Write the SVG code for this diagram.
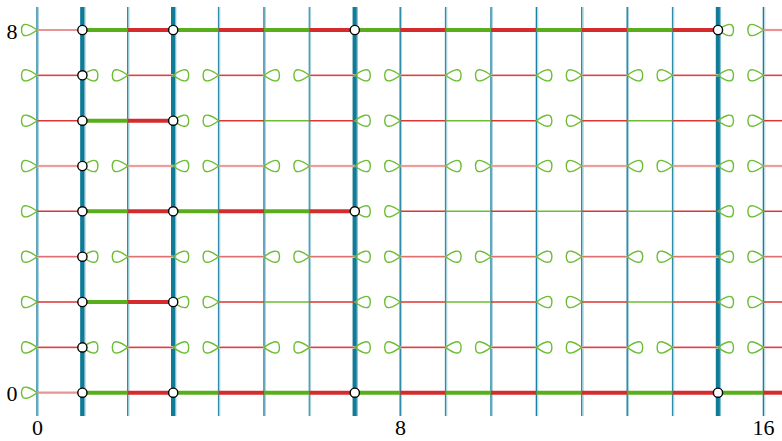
<svg xmlns="http://www.w3.org/2000/svg" xmlns:xlink="http://www.w3.org/1999/xlink" width="782" height="441" viewBox="0 0 782 441">
<style>
.vd{stroke:#1a7fa0;stroke-width:1.4}
.vl{stroke:#a6d2de;stroke-width:1}
.vk{stroke:#0f7b96;stroke-width:4}
.vkl{stroke:#86bfd0;stroke-width:5}
.tg{stroke:#5aae1e;stroke-width:4}
.tr{stroke:#d42c2c;stroke-width:4}
.sg{stroke:#6cbd34;stroke-width:1.6}
.sr{stroke:#dc3535;stroke-width:1.5}
.pk{stroke:#e89494;stroke-width:2.2}
.ou{stroke:#f6cccc;stroke-width:2.6}
.or{stroke:#e04040;stroke-width:1.2}
.lp{fill:none;stroke:#6cbd34;stroke-width:1.4}
.nd{fill:#fff;stroke:#000;stroke-width:1.4}
</style>
<defs>
<path id="loopL" d="M0,0 C-6,-4.5 -15.5,-10 -15.5,0 C-15.5,10 -6,4.5 0,0 Z"/>
<path id="loopR" d="M0,0 C6,-4.5 15.5,-10 15.5,0 C15.5,10 6,4.5 0,0 Z"/>
</defs>
<g id="verticals" fill="none">
<line class="vd" x1="37" y1="7" x2="37" y2="416"/><line class="vl" x1="38.4" y1="7" x2="38.4" y2="416"/>
<line class="vl" x1="128.7" y1="7" x2="128.7" y2="416" style="stroke-width:1.6"/><line class="vd" x1="127.6" y1="7" x2="127.6" y2="416" style="stroke-width:1"/>
<line class="vl" x1="219.5" y1="7" x2="219.5" y2="416" style="stroke-width:1.6"/><line class="vd" x1="218.4" y1="7" x2="218.4" y2="416" style="stroke-width:1"/>
<line class="vd" x1="264" y1="7" x2="264" y2="416"/><line class="vl" x1="265.4" y1="7" x2="265.4" y2="416"/>
<line class="vl" x1="310.3" y1="7" x2="310.3" y2="416" style="stroke-width:1.6"/><line class="vd" x1="309.2" y1="7" x2="309.2" y2="416" style="stroke-width:1"/>
<line class="vd" x1="400.2" y1="7" x2="400.2" y2="416"/><line class="vl" x1="401.6" y1="7" x2="401.6" y2="416"/>
<line class="vl" x1="446.5" y1="7" x2="446.5" y2="416" style="stroke-width:1.6"/><line class="vd" x1="445.4" y1="7" x2="445.4" y2="416" style="stroke-width:1"/>
<line class="vd" x1="491" y1="7" x2="491" y2="416"/><line class="vl" x1="492.4" y1="7" x2="492.4" y2="416"/>
<line class="vd" x1="536.4" y1="7" x2="536.4" y2="416"/><line class="vl" x1="537.8" y1="7" x2="537.8" y2="416"/>
<line class="vl" x1="582.7" y1="7" x2="582.7" y2="416" style="stroke-width:2"/><line class="vd" x1="581.6" y1="7" x2="581.6" y2="416" style="stroke-width:1"/>
<line class="vd" x1="627.2" y1="7" x2="627.2" y2="416"/><line class="vl" x1="628.6" y1="7" x2="628.6" y2="416"/>
<line class="vl" x1="673.5" y1="7" x2="673.5" y2="416" style="stroke-width:1.6"/><line class="vd" x1="672.4" y1="7" x2="672.4" y2="416" style="stroke-width:1"/>
<line class="vd" x1="763.4" y1="7" x2="763.4" y2="416"/><line class="vl" x1="764.8" y1="7" x2="764.8" y2="416"/>
<line class="vkl" x1="83" y1="7" x2="83" y2="416"/><line class="vk" x1="82.2" y1="7" x2="82.2" y2="416"/>
<line class="vkl" x1="173.8" y1="7" x2="173.8" y2="416"/><line class="vk" x1="173" y1="7" x2="173" y2="416"/>
<line class="vkl" x1="355.4" y1="7" x2="355.4" y2="416"/><line class="vk" x1="354.6" y1="7" x2="354.6" y2="416"/>
<line class="vkl" x1="718.6" y1="7" x2="718.6" y2="416"/><line class="vk" x1="717.8" y1="7" x2="717.8" y2="416"/>
</g>
<g id="connectors" fill="none">
<line class="pk" x1="37" y1="30" x2="82.4" y2="30"/>
<line class="tg" x1="82.4" y1="30" x2="127.8" y2="30"/><line class="tr" x1="127.8" y1="30" x2="173.2" y2="30"/>
<line class="tg" x1="173.2" y1="30" x2="218.6" y2="30"/><line class="tr" x1="218.6" y1="30" x2="264" y2="30"/>
<line class="tg" x1="264" y1="30" x2="309.4" y2="30"/><line class="tr" x1="309.4" y1="30" x2="354.8" y2="30"/>
<line class="tg" x1="354.8" y1="30" x2="400.2" y2="30"/><line class="tr" x1="400.2" y1="30" x2="445.6" y2="30"/>
<line class="tg" x1="445.6" y1="30" x2="491" y2="30"/><line class="tr" x1="491" y1="30" x2="536.4" y2="30"/>
<line class="tg" x1="536.4" y1="30" x2="581.8" y2="30"/><line class="tr" x1="581.8" y1="30" x2="627.2" y2="30"/>
<line class="tg" x1="627.2" y1="30" x2="672.6" y2="30"/><line class="tr" x1="672.6" y1="30" x2="718" y2="30"/>
<line class="pk" x1="763.4" y1="30" x2="782" y2="30"/>
<line class="pk" x1="37" y1="392.7" x2="82.4" y2="392.7"/>
<line class="tg" x1="82.4" y1="392.7" x2="127.8" y2="392.7"/><line class="tr" x1="127.8" y1="392.7" x2="173.2" y2="392.7"/>
<line class="tg" x1="173.2" y1="392.7" x2="218.6" y2="392.7"/><line class="tr" x1="218.6" y1="392.7" x2="264" y2="392.7"/>
<line class="tg" x1="264" y1="392.7" x2="309.4" y2="392.7"/><line class="tr" x1="309.4" y1="392.7" x2="354.8" y2="392.7"/>
<line class="tg" x1="354.8" y1="392.7" x2="400.2" y2="392.7"/><line class="tr" x1="400.2" y1="392.7" x2="445.6" y2="392.7"/>
<line class="tg" x1="445.6" y1="392.7" x2="491" y2="392.7"/><line class="tr" x1="491" y1="392.7" x2="536.4" y2="392.7"/>
<line class="tg" x1="536.4" y1="392.7" x2="581.8" y2="392.7"/><line class="tr" x1="581.8" y1="392.7" x2="627.2" y2="392.7"/>
<line class="tg" x1="627.2" y1="392.7" x2="672.6" y2="392.7"/><line class="tr" x1="672.6" y1="392.7" x2="718" y2="392.7"/>
<line class="tg" x1="718" y1="392.7" x2="763.4" y2="392.7"/><line class="tr" x1="763.4" y1="392.7" x2="782" y2="392.7"/>
<line class="sr" x1="37" y1="211.3" x2="82.4" y2="211.3"/>
<line class="tg" x1="82.4" y1="211.3" x2="127.8" y2="211.3"/><line class="tr" x1="127.8" y1="211.3" x2="173.2" y2="211.3"/>
<line class="tg" x1="173.2" y1="211.3" x2="218.6" y2="211.3"/><line class="tr" x1="218.6" y1="211.3" x2="264" y2="211.3"/>
<line class="tg" x1="264" y1="211.3" x2="309.4" y2="211.3"/><line class="tr" x1="309.4" y1="211.3" x2="354.8" y2="211.3"/>
<line class="sr" x1="400.2" y1="211.3" x2="445.6" y2="211.3"/><line class="sg" x1="445.6" y1="211.3" x2="491" y2="211.3"/>
<line class="sr" x1="491" y1="211.3" x2="536.4" y2="211.3"/><line class="sg" x1="536.4" y1="211.3" x2="581.8" y2="211.3"/>
<line class="sr" x1="581.8" y1="211.3" x2="627.2" y2="211.3"/><line class="sg" x1="627.2" y1="211.3" x2="672.6" y2="211.3"/>
<line class="sr" x1="672.6" y1="211.3" x2="718" y2="211.3"/>
<line class="sr" x1="763.4" y1="211.3" x2="782" y2="211.3"/>
<g id="row6">
<line class="sr" x1="37" y1="120.7" x2="82.4" y2="120.7"/>
<line class="tg" x1="82.4" y1="120.7" x2="127.8" y2="120.7"/><line class="tr" x1="127.8" y1="120.7" x2="173.2" y2="120.7"/>
<line class="sr" x1="218.6" y1="120.7" x2="264" y2="120.7"/><line class="sg" x1="264" y1="120.7" x2="309.4" y2="120.7"/><line class="sr" x1="309.4" y1="120.7" x2="354.8" y2="120.7"/>
<line class="sr" x1="400.2" y1="120.7" x2="445.6" y2="120.7"/><line class="sg" x1="445.6" y1="120.7" x2="491" y2="120.7"/><line class="sr" x1="491" y1="120.7" x2="536.4" y2="120.7"/>
<line class="sr" x1="581.8" y1="120.7" x2="627.2" y2="120.7"/><line class="sg" x1="627.2" y1="120.7" x2="672.6" y2="120.7"/><line class="sr" x1="672.6" y1="120.7" x2="718" y2="120.7"/>
<line class="sr" x1="763.4" y1="120.7" x2="782" y2="120.7"/>
</g>
<g id="row2">
<line class="sr" x1="37" y1="302" x2="82.4" y2="302"/>
<line class="tg" x1="82.4" y1="302" x2="127.8" y2="302"/><line class="tr" x1="127.8" y1="302" x2="173.2" y2="302"/>
<line class="sr" x1="218.6" y1="302" x2="264" y2="302"/><line class="sg" x1="264" y1="302" x2="309.4" y2="302"/><line class="sr" x1="309.4" y1="302" x2="354.8" y2="302"/>
<line class="sr" x1="400.2" y1="302" x2="445.6" y2="302"/><line class="sg" x1="445.6" y1="302" x2="491" y2="302"/><line class="sr" x1="491" y1="302" x2="536.4" y2="302"/>
<line class="sr" x1="581.8" y1="302" x2="627.2" y2="302"/><line class="sg" x1="627.2" y1="302" x2="672.6" y2="302"/><line class="sr" x1="672.6" y1="302" x2="718" y2="302"/>
<line class="sr" x1="763.4" y1="302" x2="782" y2="302"/>
</g>
<g id="oddrows">
<path class="ou" d="M37,75.3H82.4M127.8,75.3H173.2M218.6,75.3H264M309.4,75.3H354.8M400.2,75.3H445.6M491,75.3H536.4M581.8,75.3H627.2M672.6,75.3H718M763.4,75.3H782"/>
<path class="or" d="M37,75.3H82.4M127.8,75.3H173.2M218.6,75.3H264M309.4,75.3H354.8M400.2,75.3H445.6M491,75.3H536.4M581.8,75.3H627.2M672.6,75.3H718M763.4,75.3H782"/>
<path class="ou" d="M37,166H82.4M127.8,166H173.2M218.6,166H264M309.4,166H354.8M400.2,166H445.6M491,166H536.4M581.8,166H627.2M672.6,166H718M763.4,166H782"/>
<path class="or" style="stroke:#e27070" d="M37,166H82.4M127.8,166H173.2M218.6,166H264M309.4,166H354.8M400.2,166H445.6M491,166H536.4M581.8,166H627.2M672.6,166H718M763.4,166H782"/>
<path class="ou" d="M37,256.7H82.4M127.8,256.7H173.2M218.6,256.7H264M309.4,256.7H354.8M400.2,256.7H445.6M491,256.7H536.4M581.8,256.7H627.2M672.6,256.7H718M763.4,256.7H782"/>
<path class="or" style="stroke:#e27070" d="M37,256.7H82.4M127.8,256.7H173.2M218.6,256.7H264M309.4,256.7H354.8M400.2,256.7H445.6M491,256.7H536.4M581.8,256.7H627.2M672.6,256.7H718M763.4,256.7H782"/>
<path class="ou" d="M37,347.4H82.4M127.8,347.4H173.2M218.6,347.4H264M309.4,347.4H354.8M400.2,347.4H445.6M491,347.4H536.4M581.8,347.4H627.2M672.6,347.4H718M763.4,347.4H782"/>
<path class="or" d="M37,347.4H82.4M127.8,347.4H173.2M218.6,347.4H264M309.4,347.4H354.8M400.2,347.4H445.6M491,347.4H536.4M581.8,347.4H627.2M672.6,347.4H718M763.4,347.4H782"/>
</g>
<g id="loops" class="lp">
<use href="#loopL" x="37" y="30"/><use href="#loopR" x="718" y="30"/><use href="#loopL" x="763.4" y="30"/>
<use href="#loopL" x="37" y="392.7"/>
<use href="#loopL" x="37" y="211.3"/><use href="#loopR" x="354.8" y="211.3"/><use href="#loopL" x="400.2" y="211.3"/><use href="#loopR" x="718" y="211.3"/><use href="#loopL" x="763.4" y="211.3"/>
<use href="#loopL" x="37" y="120.7"/><use href="#loopR" x="173.2" y="120.7"/><use href="#loopL" x="218.6" y="120.7"/><use href="#loopR" x="354.8" y="120.7"/><use href="#loopL" x="400.2" y="120.7"/><use href="#loopR" x="536.4" y="120.7"/><use href="#loopL" x="581.8" y="120.7"/><use href="#loopR" x="718" y="120.7"/><use href="#loopL" x="763.4" y="120.7"/>
<use href="#loopL" x="37" y="302"/><use href="#loopR" x="173.2" y="302"/><use href="#loopL" x="218.6" y="302"/><use href="#loopR" x="354.8" y="302"/><use href="#loopL" x="400.2" y="302"/><use href="#loopR" x="536.4" y="302"/><use href="#loopL" x="581.8" y="302"/><use href="#loopR" x="718" y="302"/><use href="#loopL" x="763.4" y="302"/>
<use href="#loopL" x="37" y="75.3"/><use href="#loopR" x="82.4" y="75.3"/><use href="#loopL" x="127.8" y="75.3"/><use href="#loopR" x="173.2" y="75.3"/><use href="#loopL" x="218.6" y="75.3"/><use href="#loopR" x="264" y="75.3"/><use href="#loopL" x="309.4" y="75.3"/><use href="#loopR" x="354.8" y="75.3"/><use href="#loopL" x="400.2" y="75.3"/><use href="#loopR" x="445.6" y="75.3"/><use href="#loopL" x="491" y="75.3"/><use href="#loopR" x="536.4" y="75.3"/><use href="#loopL" x="581.8" y="75.3"/><use href="#loopR" x="627.2" y="75.3"/><use href="#loopL" x="672.6" y="75.3"/><use href="#loopR" x="718" y="75.3"/><use href="#loopL" x="763.4" y="75.3"/>
<use href="#loopL" x="37" y="166"/><use href="#loopR" x="82.4" y="166"/><use href="#loopL" x="127.8" y="166"/><use href="#loopR" x="173.2" y="166"/><use href="#loopL" x="218.6" y="166"/><use href="#loopR" x="264" y="166"/><use href="#loopL" x="309.4" y="166"/><use href="#loopR" x="354.8" y="166"/><use href="#loopL" x="400.2" y="166"/><use href="#loopR" x="445.6" y="166"/><use href="#loopL" x="491" y="166"/><use href="#loopR" x="536.4" y="166"/><use href="#loopL" x="581.8" y="166"/><use href="#loopR" x="627.2" y="166"/><use href="#loopL" x="672.6" y="166"/><use href="#loopR" x="718" y="166"/><use href="#loopL" x="763.4" y="166"/>
<use href="#loopL" x="37" y="256.7"/><use href="#loopR" x="82.4" y="256.7"/><use href="#loopL" x="127.8" y="256.7"/><use href="#loopR" x="173.2" y="256.7"/><use href="#loopL" x="218.6" y="256.7"/><use href="#loopR" x="264" y="256.7"/><use href="#loopL" x="309.4" y="256.7"/><use href="#loopR" x="354.8" y="256.7"/><use href="#loopL" x="400.2" y="256.7"/><use href="#loopR" x="445.6" y="256.7"/><use href="#loopL" x="491" y="256.7"/><use href="#loopR" x="536.4" y="256.7"/><use href="#loopL" x="581.8" y="256.7"/><use href="#loopR" x="627.2" y="256.7"/><use href="#loopL" x="672.6" y="256.7"/><use href="#loopR" x="718" y="256.7"/><use href="#loopL" x="763.4" y="256.7"/>
<use href="#loopL" x="37" y="347.4"/><use href="#loopR" x="82.4" y="347.4"/><use href="#loopL" x="127.8" y="347.4"/><use href="#loopR" x="173.2" y="347.4"/><use href="#loopL" x="218.6" y="347.4"/><use href="#loopR" x="264" y="347.4"/><use href="#loopL" x="309.4" y="347.4"/><use href="#loopR" x="354.8" y="347.4"/><use href="#loopL" x="400.2" y="347.4"/><use href="#loopR" x="445.6" y="347.4"/><use href="#loopL" x="491" y="347.4"/><use href="#loopR" x="536.4" y="347.4"/><use href="#loopL" x="581.8" y="347.4"/><use href="#loopR" x="627.2" y="347.4"/><use href="#loopL" x="672.6" y="347.4"/><use href="#loopR" x="718" y="347.4"/><use href="#loopL" x="763.4" y="347.4"/>
</g>
</g>
<g id="node-1-8"><circle class="nd" cx="82.4" cy="30" r="4.6"/></g>
<g id="node-3-8"><circle class="nd" cx="173.2" cy="30" r="4.6"/></g>
<g id="node-7-8"><circle class="nd" cx="354.8" cy="30" r="4.6"/></g>
<g id="node-15-8"><circle class="nd" cx="718" cy="30" r="4.6"/></g>
<g id="node-1-7"><circle class="nd" cx="82.4" cy="75.3" r="4.6"/></g>
<g id="node-1-6"><circle class="nd" cx="82.4" cy="120.7" r="4.6"/></g>
<g id="node-3-6"><circle class="nd" cx="173.2" cy="120.7" r="4.6"/></g>
<g id="node-1-5"><circle class="nd" cx="82.4" cy="166" r="4.6"/></g>
<g id="node-1-4"><circle class="nd" cx="82.4" cy="211.3" r="4.6"/></g>
<g id="node-3-4"><circle class="nd" cx="173.2" cy="211.3" r="4.6"/></g>
<g id="node-7-4"><circle class="nd" cx="354.8" cy="211.3" r="4.6"/></g>
<g id="node-1-3"><circle class="nd" cx="82.4" cy="256.7" r="4.6"/></g>
<g id="node-1-2"><circle class="nd" cx="82.4" cy="302" r="4.6"/></g>
<g id="node-3-2"><circle class="nd" cx="173.2" cy="302" r="4.6"/></g>
<g id="node-1-1"><circle class="nd" cx="82.4" cy="347.4" r="4.6"/></g>
<g id="node-1-0"><circle class="nd" cx="82.4" cy="392.7" r="4.6"/></g>
<g id="node-3-0"><circle class="nd" cx="173.2" cy="392.7" r="4.6"/></g>
<g id="node-7-0"><circle class="nd" cx="354.8" cy="392.7" r="4.6"/></g>
<g id="node-15-0"><circle class="nd" cx="718" cy="392.7" r="4.6"/></g>
<g id="labels" font-family="Liberation Serif, Times New Roman, serif" font-size="22" fill="#000" text-anchor="middle">
<text x="12" y="38.5">8</text>
<text x="12" y="400.7">0</text>
<text x="37.5" y="435">0</text>
<text x="400.5" y="435">8</text>
<text x="763.5" y="435">16</text>
</g>
</svg>
